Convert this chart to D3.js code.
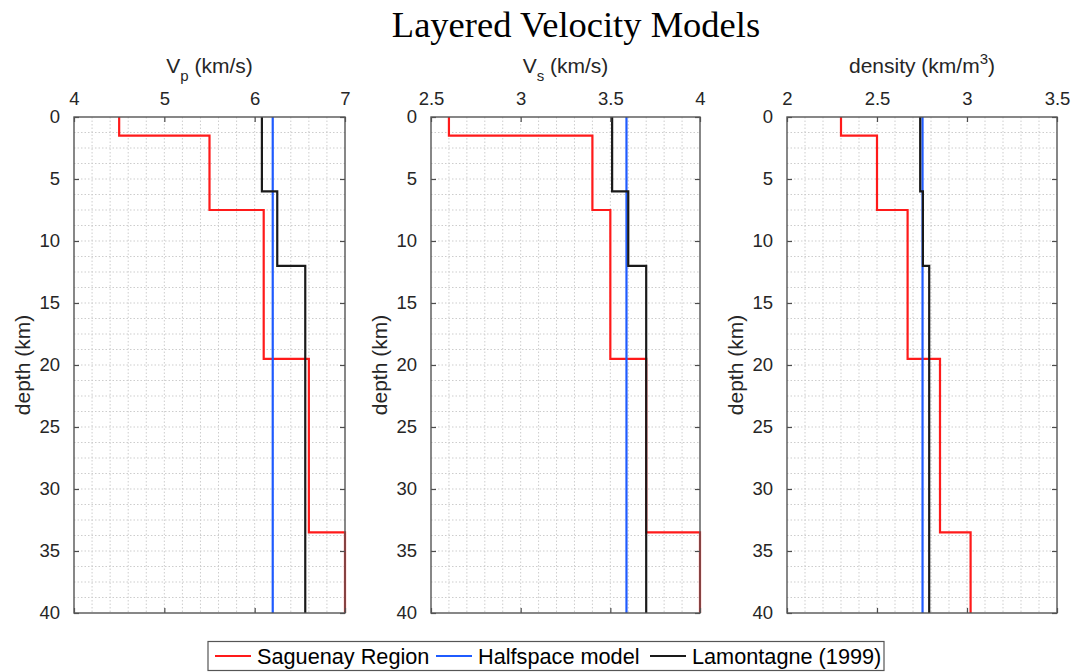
<!DOCTYPE html>
<html>
<head>
<meta charset="utf-8">
<script src="https://cdn.jsdelivr.net/npm/d3@7"></script>
<style>
  html, body { margin: 0; padding: 0; background: #fff; }
  svg { display: block; }
  text { font-family: "Liberation Sans", Arial, sans-serif; fill: #262626; }
</style>
</head>
<body>
<svg id="chart" width="1089" height="672"></svg>
<script>
// Layer tops (km) and layer values for each velocity model
const saguenayTops = [0, 1.5, 7.5, 19.5, 33.5];
const saguenayVp   = [4.5, 5.5, 6.1, 6.6, 7.0];
const saguenayVs   = [2.6, 3.4, 3.5, 3.7, 4.0];
const saguenayRho  = [2.3, 2.5, 2.67, 2.85, 3.02];

const lamontagneTops = [0, 6, 12];
const lamontagneVp   = [6.08, 6.25, 6.56];
const lamontagneVs   = [3.51, 3.6, 3.7];
const lamontagneRho  = [2.74, 2.755, 2.79];

const halfspaceTops = [0];
const halfspaceVp   = [6.2];
const halfspaceVs   = [3.59];
const halfspaceRho  = [2.753];

const maxDepth = 40;
const depthTicks = [0, 5, 10, 15, 20, 25, 30, 35, 40];
const vpTicks  = [4, 5, 6, 7];
const vsTicks  = [2.5, 3, 3.5, 4];
const rhoTicks = [2, 2.5, 3, 3.5];

const seriesNames = ["Saguenay Region", "Halfspace model", "Lamontagne (1999)"];
const seriesColors = ["#ff1a1a", "#1f5bff", "#1a1a1a"];

const panels = [
  { left: 74,  right: 345,  domain: [4, 7],     ticks: vpTicks,  minor: 0.2,
    label: ["V", "p", " (km/s)"],
    series: [[saguenayTops, saguenayVp], [halfspaceTops, halfspaceVp], [lamontagneTops, lamontagneVp]] },
  { left: 431, right: 700,  domain: [2.5, 4],   ticks: vsTicks,  minor: 0.1,
    label: ["V", "s", " (km/s)"],
    series: [[saguenayTops, saguenayVs], [halfspaceTops, halfspaceVs], [lamontagneTops, lamontagneVs]] },
  { left: 787, right: 1057, domain: [2, 3.5],   ticks: rhoTicks, minor: 0.1,
    label: ["density (km/m", "3", ")"], sup: true,
    series: [[saguenayTops, saguenayRho], [halfspaceTops, halfspaceRho], [lamontagneTops, lamontagneRho]] }
];

const plotTop = 117, plotBottom = 613;
const svg = d3.select("#chart");

svg.append("text")
  .attr("x", 576).attr("y", 37)
  .attr("text-anchor", "middle")
  .style("font-family", "'Liberation Serif', 'Times New Roman', serif")
  .style("font-size", "36.5px")
  .style("fill", "#000")
  .text("Layered Velocity Models");

const y = d3.scaleLinear().domain([0, maxDepth]).range([plotTop, plotBottom]);

function stepPoints(tops, vals) {
  const pts = [];
  vals.forEach((v, i) => {
    const d0 = tops[i];
    const d1 = i + 1 < tops.length ? tops[i + 1] : maxDepth;
    pts.push([v, d0], [v, d1]);
  });
  return pts;
}

panels.forEach(p => {
  const x = d3.scaleLinear().domain(p.domain).range([p.left, p.right]);
  const g = svg.append("g");

  // dotted grid: minor and major on both axes
  const xGrid = d3.range(p.domain[0], p.domain[1] + 1e-9, p.minor).slice(1, -1);
  const yGrid = d3.range(0, maxDepth + 1e-9, 1.25).slice(1, -1);
  g.selectAll(".gx").data(xGrid).join("line")
    .attr("x1", d => x(d)).attr("x2", d => x(d))
    .attr("y1", plotTop).attr("y2", plotBottom)
    .attr("stroke", "#cdcdcd").attr("stroke-width", 1)
    .attr("stroke-dasharray", "1.5,2");
  g.selectAll(".gy").data(yGrid).join("line")
    .attr("x1", p.left).attr("x2", p.right)
    .attr("y1", d => y(d)).attr("y2", d => y(d))
    .attr("stroke", "#cdcdcd").attr("stroke-width", 1)
    .attr("stroke-dasharray", "1.5,2");

  // step profiles
  const line = d3.line().x(d => x(d[0])).y(d => y(d[1]));
  p.series.forEach((s, i) => {
    g.append("path")
      .attr("d", line(stepPoints(s[0], s[1])))
      .attr("fill", "none")
      .attr("stroke", seriesColors[i])
      .attr("stroke-width", 2.2);
  });

  // axes: labels on top and left, inward ticks on all four sides
  const tickLen = 5;
  const axisTop = d3.axisTop(x).tickValues(p.ticks).tickSizeInner(-tickLen).tickSizeOuter(0).tickPadding(12)
    .tickFormat(d3.format("~g"));
  const axisBottom = d3.axisBottom(x).tickValues(p.ticks).tickSizeInner(-tickLen).tickSizeOuter(0).tickFormat("");
  const axisLeft = d3.axisLeft(y).tickValues(depthTicks).tickSizeInner(-tickLen).tickSizeOuter(0).tickPadding(14);
  const axisRight = d3.axisRight(y).tickValues(depthTicks).tickSizeInner(-tickLen).tickSizeOuter(0).tickFormat("");

  [[axisTop, `translate(0,${plotTop})`], [axisBottom, `translate(0,${plotBottom})`],
   [axisLeft, `translate(${p.left},0)`], [axisRight, `translate(${p.right},0)`]].forEach(([ax, tr]) => {
    const a = g.append("g").attr("transform", tr).call(ax);
    a.select(".domain").remove();
    a.selectAll(".tick line").attr("stroke", "#4d4d4d").attr("stroke-width", 1.2);
    a.selectAll(".tick text").style("font-size", "18.5px").style("fill", "#262626")
      .style("font-family", "'Liberation Sans', Arial, sans-serif");
  });

  g.append("rect")
    .attr("x", p.left).attr("y", plotTop)
    .attr("width", p.right - p.left).attr("height", plotBottom - plotTop)
    .attr("fill", "none").attr("stroke", "#555").attr("stroke-width", 1.4);

  // top axis title with sub/superscript
  const cx = (p.left + p.right) / 2;
  const t = g.append("text").attr("x", cx).attr("y", 73)
    .attr("text-anchor", "middle").style("font-size", "21px");
  t.append("tspan").text(p.label[0]);
  if (p.sup) {
    t.append("tspan").attr("dy", -9).style("font-size", "15px").text(p.label[1]);
    t.append("tspan").attr("dy", 9).text(p.label[2]);
  } else {
    t.append("tspan").attr("dy", 8).style("font-size", "15px").text(p.label[1]);
    t.append("tspan").attr("dy", -8).text(p.label[2]);
  }

  // depth label
  g.append("text")
    .attr("transform", `translate(${p.left - 44},${(plotTop + plotBottom) / 2}) rotate(-90)`)
    .attr("text-anchor", "middle")
    .style("font-size", "21px")
    .text("depth (km)");
});

// legend
const legend = svg.append("g");
legend.append("rect")
  .attr("x", 208).attr("y", 641.5).attr("width", 676).attr("height", 29)
  .attr("fill", "#fff").attr("stroke", "#555").attr("stroke-width", 1.2);
const legendTextX = [257, 478, 692];
seriesNames.forEach((name, i) => {
  const tx = legendTextX[i];
  legend.append("line")
    .attr("x1", tx - 42).attr("x2", tx - 6)
    .attr("y1", 656).attr("y2", 656)
    .attr("stroke", seriesColors[i]).attr("stroke-width", 2);
  legend.append("text")
    .attr("x", tx).attr("y", 663.5)
    .style("font-size", "21.7px")
    .style("fill", "#000")
    .text(name);
});
</script>
</body>
</html>
